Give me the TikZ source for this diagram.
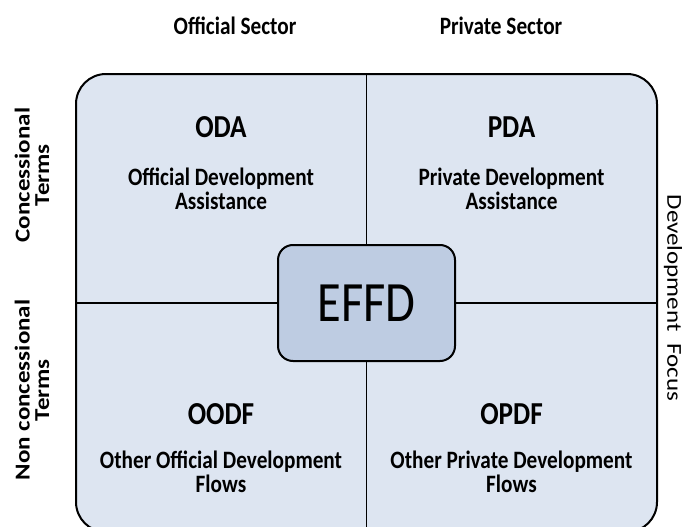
\documentclass[tikz,border=0pt]{standalone}
\usepackage{fontspec}
\setmainfont{Carlito}[FakeStretch=0.85]
\newfontfamily\sidefont{Carlito}
\definecolor{quadfill}{RGB}{221,229,241}
\definecolor{corefill}{RGB}{190,204,226}
\tikzset{
  frame/.style={draw=black, fill=quadfill, line width=2pt, rounded corners=30pt,
    minimum width=581pt, minimum height=458pt, inner sep=0pt},
  core/.style={draw=black, fill=corefill, line width=2pt, rounded corners=15pt,
    minimum width=177pt, minimum height=116pt, inner sep=0pt,
    font=\fontsize{57}{60}\selectfont},
  divider/.style={draw=black, line width=1.6pt},
  sector/.style={anchor=base, inner sep=0pt, font=\bfseries\fontsize{25}{24}\selectfont},
  acronym/.style={anchor=base, inner sep=0pt, font=\bfseries\fontsize{32}{34}\selectfont},
  longname/.style={anchor=base, inner sep=0pt, align=center,
    font=\bfseries\fontsize{25}{24}\selectfont},
  terms/.style={inner sep=0pt, align=center, xscale=0.85,
    font=\sidefont\bfseries\fontsize{25}{23}\selectfont},
  focus/.style={inner sep=0pt, xscale=0.85, font=\sidefont\fontsize{25}{24}\selectfont}
}
\begin{document}
\begin{tikzpicture}[x=1pt,y=-1pt]
  \useasboundingbox (0,0) rectangle (693,527);

  \node[frame] (frame) at (366.5,303) {};
  \node[core] (core) at (366.5,303) {EFFD};

  \path[divider] (frame.north) edge (core.north);
  \path[divider] (frame.south) edge (core.south);
  \path[divider] (frame.west) edge (core.west);
  \path[divider] (frame.east) edge (core.east);

  \node[sector] (official) at (235,35) {Official Sector};
  \node[sector] (private) at (501,35) {Private Sector};

  \node[terms, rotate=90] (conc) at (32,175) {Concessional\\Terms};
  \node[terms, rotate=90] (nonconc) at (32,390) {Non concessional\\Terms};
  \node[focus, rotate=-90] (devfocus) at (673,298) {Development\hspace{12pt}Focus};

  \node[acronym] (oda) at (221,137) {ODA};
  \node[acronym] (pda) at (511.5,137) {PDA};
  \node[acronym] (oodf) at (221,424) {OODF};
  \node[acronym] (opdf) at (511.5,424) {OPDF};

  \node[longname] (odaname) at (221,209) {Official Development\\Assistance};
  \node[longname] (pdaname) at (511.5,209) {Private Development\\Assistance};
  \node[longname] (oodfname) at (221,492) {Other Official Development\\Flows};
  \node[longname] (opdfname) at (511.5,492) {Other Private Development\\Flows};
\end{tikzpicture}
\end{document}
